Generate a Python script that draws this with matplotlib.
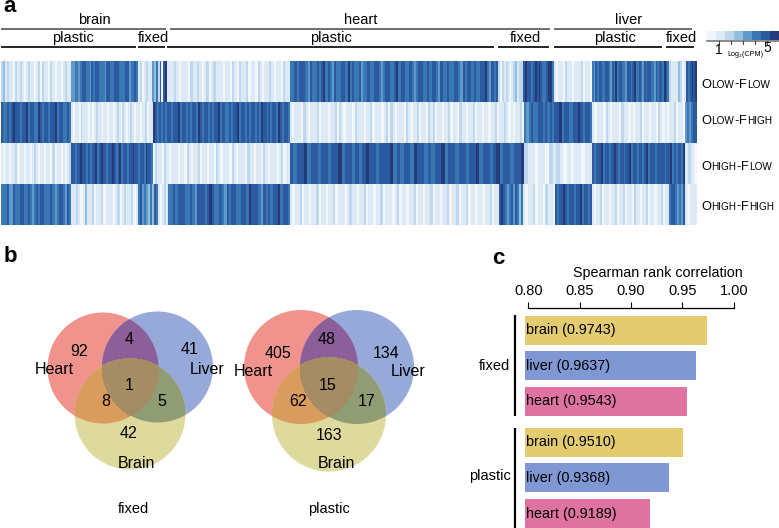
import matplotlib
matplotlib.use("Agg")
import matplotlib.pyplot as plt
import numpy as np
from matplotlib.colors import ListedColormap
from matplotlib.patches import Circle

plt.rcParams['font.family'] = ['Liberation Sans', 'DejaVu Sans']
W, H = 779, 528

# ---------- heatmap data (digit = log2(CPM) colour level, read stripe by stripe)
LEVEL_COLORS = ['#F1F6FB', '#DDE9F5', '#BFD7EA', '#93BEDD', '#5F9AC8', '#3A78B4', '#2C5AA0', '#243A7A']
ROW_LABELS = [[('O', 1), ('LOW', 0), ('-', 1), ('F', 1), ('LOW', 0)],
              [('O', 1), ('LOW', 0), ('-', 1), ('F', 1), ('HIGH', 0)],
              [('O', 1), ('HIGH', 0), ('-', 1), ('F', 1), ('LOW', 0)],
              [('O', 1), ('HIGH', 0), ('-', 1), ('F', 1), ('HIGH', 0)]]
row1_edges = [1, 71, 138, 152, 167, 290, 498, 523, 554, 592, 669, 686, 697]
row1_stripes = [
    '2312110212101211012021102101101211',
    '445545665546566555466556665556645565',
    '1201211',
    '43526067',
    '11121011102112101201211101102102112011021011210110211',
    '5565666546556567565465566575655645565566545665567566556545665565665465565566546566565566754656',
    '2021210123122',
    '6766567676556775',
    '10110211011120110',
    '5465665566546575665546656755654656655465665765',
    '21113201',
    '656767',
]
row2_edges = [1, 71, 153, 290, 524, 592, 685, 697]
row2_stripes = [
    '6556567665667566557656656675665565',
    '1011021110101211011011012102101210110112011',
    '7656565665666756656566576566565667566556566756656566565766565665765665',
    '101110210111201110112021011102111011201110120210111021011201102120110112011021101120110110112011210101120',
    '54565566565656675665566765665',
    '10111021011102110101120110110210101120110',
    '454566',
]
row3_edges = [1, 71, 153, 290, 524, 592, 685, 697]
row3_stripes = [
    '1011011201101101210110110201101012',
    '66566766565667567665667656756656676656657665',
    '0211021011101102101120110110210111021011102110110210111012011',
    '65667566566566756656567665666756566576656566756656656675665675665667',
    '2110110212101011011',
    '65666756656676566566756656656756665666656675656657',
    '1210',
]
row4_edges = [1, 71, 138, 158, 168, 290, 499, 523, 555, 592, 669, 685, 697]
row4_stripes = [
    '5556446556655654565665556545665465',
    '11210131120112011101201211201',
    '5645435365',
    '10121',
    '55656665565466656765565465665566576665465656675665',
    '1011201101120110112011101211011201101120111012011011201101120110112011201120110110112011',
    '676545646535',
    '1011201102110',
    '656676566566756656',
    '1011201101120112011021101120110112011',
    '56654546',
    '10111',
]
ROW_EDGES = [row1_edges, row2_edges, row3_edges, row4_edges]
ROW_STRIPES = [row1_stripes, row2_stripes, row3_stripes, row4_stripes]

# ---------- venn data
VENN_FIXED = dict(heart=92, liver=41, brain=42, hl=4, hb=8, lb=5, hlb=1)
VENN_PLASTIC = dict(heart=405, liver=134, brain=163, hl=48, hb=62, lb=17, hlb=15)

# ---------- bar data
BAR_TISSUES = ['brain', 'liver', 'heart']
BAR_FIXED = [0.9743, 0.9637, 0.9543]
BAR_PLASTIC = [0.9510, 0.9368, 0.9189]
BAR_COLORS = {'brain': '#E3CB70', 'liver': '#7F97D3', 'heart': '#DE739F'}
X_TICKS = [0.80, 0.85, 0.90, 0.95, 1.00]

fig = plt.figure(figsize=(W / 100, H / 100), dpi=100)

def px_axes(x0, y0, x1, y1, **kw):
    return fig.add_axes([x0 / W, 1 - y1 / H, (x1 - x0) / W, (y1 - y0) / H], **kw)

ov = px_axes(0, 0, W, H)
ov.set_xlim(0, W); ov.set_ylim(H, 0); ov.axis('off')

# ---------- panel a
cmap = ListedColormap(LEVEL_COLORS)
hm = px_axes(1, 61, 697, 225)
hm.set_xlim(1, 697); hm.set_ylim(4, 0); hm.axis('off')
for r, (edges, blocks) in enumerate(zip(ROW_EDGES, ROW_STRIPES)):
    for a, b, s in zip(edges[:-1], edges[1:], blocks):
        vals = np.array([[int(c) for c in s]])
        hm.pcolormesh(np.linspace(a, b, len(s) + 1), [r, r + 1], vals,
                      cmap=cmap, vmin=-0.5, vmax=7.5, linewidth=0, antialiased=False)

top_groups = [('brain', 94, 1, 166), ('heart', 361, 170, 550), ('liver', 629, 554, 692)]
sub_groups = [('plastic', 73, 1, 136), ('fixed', 153, 138, 165), ('plastic', 331, 167, 494),
              ('fixed', 525, 498, 549), ('plastic', 615, 554, 662), ('fixed', 681, 666, 694)]
for t, xc, a, b in top_groups:
    ov.text(xc, 20.5, t, ha='center', va='center', fontsize=10.5)
    ov.plot([a, b], [29, 29], color='#555555', lw=1.2, solid_capstyle='butt')
for t, xc, a, b in sub_groups:
    ov.text(xc, 38, t, ha='center', va='center', fontsize=10.5)
    ov.plot([a, b], [47, 47], color='black', lw=1.2, solid_capstyle='butt')

# colour key
ck = px_axes(707, 31, 779, 40)
ck.imshow(np.arange(8)[None, :], cmap=cmap, aspect='auto', vmin=-0.5, vmax=7.5)
ck.axis('off')
ov.plot([707, 779], [41, 41], color='#777777', lw=1.2)
for x in (719, 731, 743, 755, 767):
    ov.plot([x, x], [41, 43.5], color='#444444', lw=0.8)
ov.text(719, 49.5, '1', ha='center', va='center', fontsize=10)
ov.text(767.5, 48, '5', ha='center', va='center', fontsize=10)
ov.text(745, 54, 'Log\u2082(CPM)', ha='center', va='center', fontsize=5.2)

# row labels with small capitals
fig.canvas.draw()
rend = fig.canvas.get_renderer()
for parts, y in zip(ROW_LABELS, [83, 120, 166, 205]):
    x = 701
    for s, big in parts:
        t = ov.text(x, y + 4.5, s, ha='left', va='baseline', fontsize=9.3 if big else 7.2)
        x += t.get_window_extent(rend).width + 0.2

# ---------- panel b
C_HEART, C_LIVER, C_BRAIN = '#F0938D', '#97A9D9', '#DEDA9E'
C_HL, C_HB, C_LB, C_HLB = '#8C5F98', '#D99C5C', '#8F9C74', '#A48C64'

def clipped(c, clip, r, col, z):
    p = Circle(c, r, fc=col, ec='none', zorder=z)
    ov.add_patch(p)
    p.set_clip_path(Circle(clip, r, transform=ov.transData))

def venn(h, l, b, r, counts, name, nameloc, pos):
    ov.add_patch(Circle(h, r, fc=C_HEART, ec='none', zorder=1))
    ov.add_patch(Circle(l, r, fc=C_LIVER, ec='none', zorder=1))
    clipped(h, l, r, C_HL, 2)
    ov.add_patch(Circle(b, r, fc=C_BRAIN, ec='none', zorder=3))
    clipped(h, b, r, C_HB, 4)
    clipped(l, b, r, C_LB, 4)
    # region shared by all three discs
    xs, ys = np.meshgrid(np.linspace(h[0] - r, l[0] + r, 600), np.linspace(h[1] - r, b[1] + r, 600))
    m = (np.hypot(xs - h[0], ys - h[1]) <= r) & (np.hypot(xs - l[0], ys - l[1]) <= r) & (np.hypot(xs - b[0], ys - b[1]) <= r)
    ov.contourf(xs, ys, m.astype(float), levels=[0.5, 1.5], colors=[C_HLB], zorder=5)
    for key, (x, y) in pos.items():
        ov.text(x, y, str(counts.get(key, key)), ha='center', va='center', fontsize=11.5, zorder=10)
    ov.text(*nameloc, name, ha='center', va='center', fontsize=10.5)

venn((103, 368), (157.5, 367), (130, 414), 55.5, VENN_FIXED, 'fixed', (133, 509),
     {'heart': (79, 351), 'hl': (129, 339), 'liver': (190, 350), 'Heart': (54, 370), 'Liver': (207, 370),
      'hlb': (129, 385), 'hb': (106, 401), 'lb': (162, 401), 'brain': (129, 434), 'Brain': (136, 464)})
venn((301, 367), (357, 367), (329, 414.5), 57, VENN_PLASTIC, 'plastic', (329, 509),
     {'heart': (278, 353), 'hl': (327, 339), 'liver': (386, 353), 'Heart': (253, 372), 'Liver': (408, 372),
      'hlb': (328, 385), 'hb': (298, 401), 'lb': (367, 401), 'brain': (329, 435), 'Brain': (336, 463)})

# ---------- panel c
ax = px_axes(528.3, 307.7, 733.7, H)
ax.set_xlim(0.80, 1.00); ax.set_ylim(H, 307.7)
ax.patch.set_alpha(0)
left = 0.7965
centres = [330.2, 365.8, 401.4, 442.3, 478.0, 513.7]
for yc, v, t in zip(centres, BAR_FIXED + BAR_PLASTIC, BAR_TISSUES * 2):
    ax.barh(yc, v - left, left=left, height=29, color=BAR_COLORS[t], clip_on=False)
    ax.text(0.7975, yc, f'{t} ({v:.4f})', ha='left', va='center', fontsize=10.4)
ax.xaxis.tick_top()
ax.set_xticks(X_TICKS, [f'{x:.2f}' for x in X_TICKS], fontsize=10.5)
ax.tick_params(axis='x', length=4, width=0.8, pad=3, direction='out')
ax.set_yticks([])
for s in ('left', 'right', 'bottom'):
    ax.spines[s].set_visible(False)
ax.spines['top'].set_linewidth(0.9)
ov.text(657.7, 273, 'Spearman rank correlation', ha='center', va='center', fontsize=10.3)
ov.plot([515, 515], [315, 416], color='black', lw=1.6, solid_capstyle='butt')
ov.plot([515, 515], [428, 528], color='black', lw=1.6, solid_capstyle='butt')
ov.text(510.5, 366, 'fixed', ha='right', va='center', fontsize=10.5)
ov.text(510.5, 476, 'plastic', ha='right', va='center', fontsize=10.5)

# panel letters
ov.text(3, 6, 'a', fontsize=16, fontweight='bold', ha='left', va='center')
ov.text(4, 257, 'b', fontsize=16, fontweight='bold', ha='left', va='center')
ov.text(492, 258, 'c', fontsize=16, fontweight='bold', ha='left', va='center')

fig.savefig('out.png', dpi=100)
